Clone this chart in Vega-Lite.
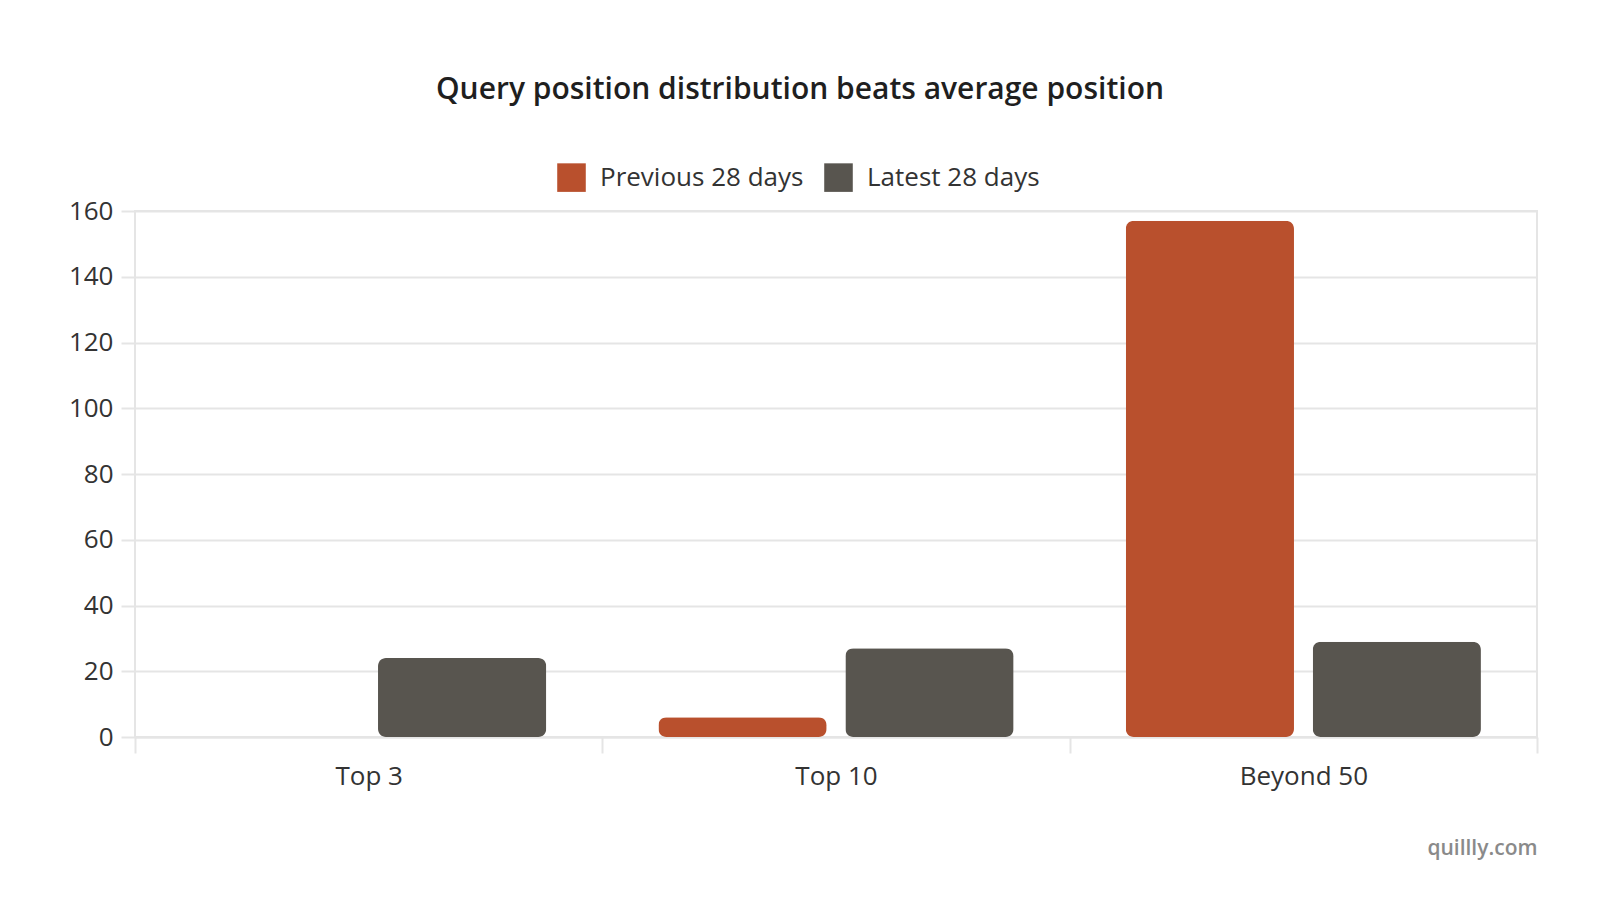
{
  "$schema": "https://vega.github.io/schema/vega-lite/v6.json",
  "autosize": "none",
  "width": 1402,
  "height": 526,
  "padding": {"left": 135, "top": 211, "right": 63, "bottom": 161},
  "background": "white",
  "title": {
    "text": "Query position distribution beats average position",
    "fontSize": 30,
    "fontWeight": 600,
    "color": "#1f1f1f",
    "anchor": "middle",
    "frame": "group",
    "dx": -36,
    "offset": 58
  },
  "data": {
    "values": [
      {"position": "Top 3", "period": "Previous 28 days", "queries": 0},
      {"position": "Top 3", "period": "Latest 28 days", "queries": 24},
      {"position": "Top 10", "period": "Previous 28 days", "queries": 6},
      {"position": "Top 10", "period": "Latest 28 days", "queries": 27},
      {"position": "Beyond 50", "period": "Previous 28 days", "queries": 157},
      {"position": "Beyond 50", "period": "Latest 28 days", "queries": 29}
    ]
  },
  "mark": {"type": "bar", "cornerRadius": 8},
  "encoding": {
    "x": {
      "field": "position",
      "type": "nominal",
      "sort": ["Top 3", "Top 10", "Beyond 50"],
      "scale": {"paddingInner": 0, "paddingOuter": 0},
      "axis": {
        "title": "quillly.com",
        "titleAnchor": "end",
        "titleFontSize": 21,
        "titleFontWeight": 600,
        "titleColor": "#8a8a8a",
        "titlePadding": 48,
        "labelAngle": 0,
        "tickBand": "extent",
        "tickSize": 16,
        "labelPadding": 10
      }
    },
    "xOffset": {
      "field": "period",
      "sort": ["Previous 28 days", "Latest 28 days"],
      "scale": {"paddingInner": 0.1, "paddingOuter": 0.3}
    },
    "y": {
      "field": "queries",
      "type": "quantitative",
      "scale": {"domain": [0, 160], "nice": false},
      "axis": {
        "title": null,
        "values": [0, 20, 40, 60, 80, 100, 120, 140, 160],
        "domain": false,
        "tickSize": 14,
        "labelPadding": 8
      }
    },
    "color": {
      "field": "period",
      "type": "nominal",
      "scale": {
        "domain": ["Previous 28 days", "Latest 28 days"],
        "range": ["#b9502d", "#58554f"]
      },
      "legend": {
        "title": null,
        "orient": "none",
        "direction": "horizontal",
        "legendX": 422,
        "legendY": -48,
        "symbolType": "square",
        "symbolSize": 816,
        "symbolStrokeWidth": 0,
        "labelFontSize": 26,
        "labelLimit": 0,
        "labelColor": "#333333",
        "labelOffset": 14,
        "columnPadding": 20
      }
    }
  },
  "config": {
    "font": "Open Sans",
    "view": {"stroke": "#e5e5e5", "strokeWidth": 2},
    "axis": {
      "labelFontSize": 26,
      "labelColor": "#333333",
      "gridColor": "#e5e5e5",
      "gridWidth": 2,
      "tickColor": "#e5e5e5",
      "tickWidth": 2,
      "domainColor": "#e5e5e5",
      "domainWidth": 2
    }
  }
}
